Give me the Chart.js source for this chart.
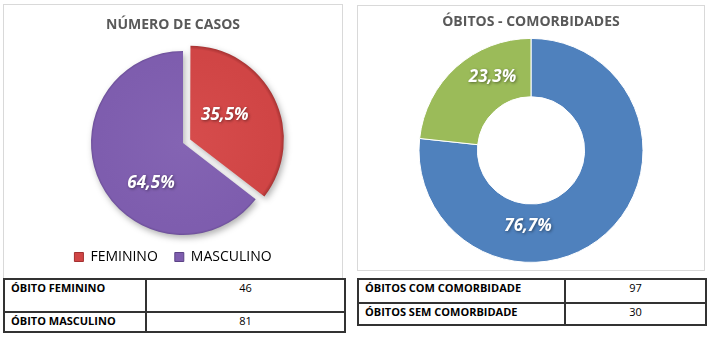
<!DOCTYPE html>
<html lang="pt-BR">
<head>
<meta charset="utf-8">
<script src="https://cdn.jsdelivr.net/npm/chart.js@4/dist/chart.umd.min.js"></script>
<style>
  html, body { margin: 0; padding: 0; background: #fff; }
  body { width: 712px; height: 339px; position: relative; overflow: hidden;
         font-family: "Open Sans", sans-serif; }
  .panel { position: absolute; border: 1px solid #d9d9d9; background: #fff; }
  .panel canvas { display: block; }
  #casosPanel { left: 3px; top: 4px; width: 338px; height: 273px; }
  #comorbPanel { left: 357px; top: 5px; width: 346px; height: 264px; }
  table.resumo { position: absolute; border-collapse: collapse; table-layout: fixed;
                 font-size: 11px; color: #000; }
  table.resumo td { border: 2px solid #333; padding: 0; line-height: 15px; vertical-align: top; }
  table.resumo td.rotulo { font-weight: 700; padding-left: 6px; }
  table.resumo td.valor { text-align: center; }
  #tabSexo { left: 3px; top: 278px; width: 341px; }
  #tabComorb { left: 357px; top: 278px; width: 348px; }
</style>
</head>
<body>
<div class="panel" id="casosPanel"><canvas id="casos" width="338" height="273"></canvas></div>
<div class="panel" id="comorbPanel"><canvas id="comorb" width="346" height="264"></canvas></div>
<table class="resumo" id="tabSexo"></table>
<table class="resumo" id="tabComorb"></table>
<script>
// Casos por sexo (%)
const sexoLabels = ['FEMININO', 'MASCULINO'];
const sexoPercent = [35.5, 64.5];

// Óbitos por comorbidade (%)
const comorbLabels = ['Com comorbidade', 'Sem comorbidade'];
const comorbPercent = [76.7, 23.3];

// Tabelas de óbitos
const obitoSexoRows = ['ÓBITO FEMININO', 'ÓBITO MASCULINO'];
const obitoSexoValues = [46, 81];
const obitoComorbRows = ['ÓBITOS COM COMORBIDADE', 'ÓBITOS SEM COMORBIDADE'];
const obitoComorbValues = [97, 30];

Chart.defaults.font.family = '"Open Sans", sans-serif';
Chart.defaults.animation = false;

const fmtPct = v => v.toFixed(1).replace('.', ',') + '%';

// Slice palettes: [light body, base, darker bevelled rim]
const sexoShades = [
  ['#D64C4C', '#D04545', '#A33131'],
  ['#8464B3', '#7E5DAE', '#5C4386']
];

// Radial shading per slice
function shadedFill(c) {
  const [light, base, rim] = sexoShades[c.dataIndex % sexoShades.length];
  const chart = c.chart, a = chart.chartArea;
  if (!a) return base;
  const cx = (a.left + a.right) / 2, cy = (a.top + a.bottom) / 2;
  const g = chart.ctx.createRadialGradient(cx, cy, 0, cx, cy, 94);
  g.addColorStop(0, light);
  g.addColorStop(0.9, base);
  g.addColorStop(0.955, base);
  g.addColorStop(1, rim);
  return g;
}

// Shifts the arcs sideways, adds an optional drop shadow, then writes the percentages
const arcDecor = {
  id: 'arcDecor',
  beforeDatasetsDraw(chart, args, o) {
    const ctx = chart.ctx;
    ctx.save();
    ctx.translate(o.shiftX || 0, 0);
    if (o.shadow) {
      ctx.shadowColor = 'rgba(0,0,0,0.3)';
      ctx.shadowBlur = 6;
      ctx.shadowOffsetX = 2;
      ctx.shadowOffsetY = 3;
    }
  },
  afterDatasetsDraw(chart, args, o) {
    const ctx = chart.ctx;
    ctx.restore();
    const meta = chart.getDatasetMeta(0);
    const values = chart.data.datasets[0].data;
    ctx.save();
    ctx.font = o.font;
    ctx.fillStyle = '#ffffff';
    ctx.textAlign = 'center';
    ctx.textBaseline = 'middle';
    ctx.shadowColor = 'rgba(0,0,0,0.45)';
    ctx.shadowBlur = 3;
    ctx.shadowOffsetX = 1;
    ctx.shadowOffsetY = 1;
    meta.data.forEach((arc, i) => {
      const p = arc.getProps(['x', 'y', 'startAngle', 'endAngle', 'innerRadius', 'outerRadius'], true);
      const off = (arc.options.offset || 0) / 4;
      const mid = (p.startAngle + p.endAngle) / 2;
      const [f, rf] = o.place[i];
      const ang = p.startAngle + (p.endAngle - p.startAngle) * f;
      const r = p.innerRadius + (p.outerRadius - p.innerRadius) * rf;
      const x = p.x + (o.shiftX || 0) + Math.cos(mid) * off + Math.cos(ang) * r;
      const y = p.y + Math.sin(mid) * off + Math.sin(ang) * r;
      ctx.fillText(fmtPct(values[i]), x, y);
    });
    ctx.restore();
  }
};

new Chart(document.getElementById('casos'), {
  type: 'pie',
  plugins: [arcDecor],
  data: {
    labels: sexoLabels,
    datasets: [{
      data: sexoPercent,
      backgroundColor: shadedFill,
      borderWidth: 0,
      offset: [32, 0],
      radius: 92
    }]
  },
  options: {
    responsive: false,
    layout: { padding: { bottom: 4 } },
    plugins: {
      title: {
        display: true,
        text: 'NÚMERO DE CASOS',
        color: '#595959',
        font: { size: 14, weight: 'bold' },
        padding: { top: 12, bottom: 19 }
      },
      legend: {
        position: 'bottom',
        labels: {
          color: '#595959',
          font: { size: 14 },
          boxWidth: 9,
          boxHeight: 9,
          padding: 17,
          generateLabels(chart) {
            return chart.data.labels.map((t, i) => ({
              text: t, fillStyle: sexoShades[i][1], strokeStyle: sexoShades[i][2],
              lineWidth: 1, index: i, hidden: false
            }));
          }
        }
      },
      tooltip: { enabled: false },
      arcDecor: {
        shiftX: 10,
        shadow: true,
        font: 'italic bold 17px "Open Sans"',
        place: [[0.43, 0.46], [0.39, 0.56]]
      }
    }
  }
});

new Chart(document.getElementById('comorb'), {
  type: 'doughnut',
  plugins: [arcDecor],
  data: {
    labels: comorbLabels,
    datasets: [{
      data: comorbPercent,
      backgroundColor: ['#4F81BD', '#9BBB59'],
      borderColor: '#ffffff',
      borderWidth: 1,
      radius: 112,
      cutout: 57
    }]
  },
  options: {
    responsive: false,
    plugins: {
      title: {
        display: true,
        text: 'ÓBITOS - COMORBIDADES',
        color: '#595959',
        font: { size: 14, weight: 'bold' },
        padding: { top: 8, bottom: 0 }
      },
      legend: { display: false },
      tooltip: { enabled: false },
      arcDecor: {
        shiftX: 0,
        shadow: false,
        font: 'italic bold 17px "Open Sans"',
        place: [[0.66, 0.38], [0.67, 0.5]]
      }
    }
  }
});

// Summary tables under each chart
function fillTable(id, rows, values, widths, heights) {
  const t = document.getElementById(id);
  const cg = document.createElement('colgroup');
  widths.forEach(w => { const c = document.createElement('col'); c.style.width = w + 'px'; cg.appendChild(c); });
  t.appendChild(cg);
  rows.forEach((r, i) => {
    const tr = document.createElement('tr');
    tr.style.height = heights[i] + 'px';
    const a = document.createElement('td'); a.className = 'rotulo'; a.textContent = r;
    const b = document.createElement('td'); b.className = 'valor'; b.textContent = values[i];
    tr.appendChild(a); tr.appendChild(b); t.appendChild(tr);
  });
}
fillTable('tabSexo', obitoSexoRows, obitoSexoValues, [142, 199], [33, 20]);
fillTable('tabComorb', obitoComorbRows, obitoComorbValues, [207, 141], [24, 22]);
</script>
</body>
</html>
